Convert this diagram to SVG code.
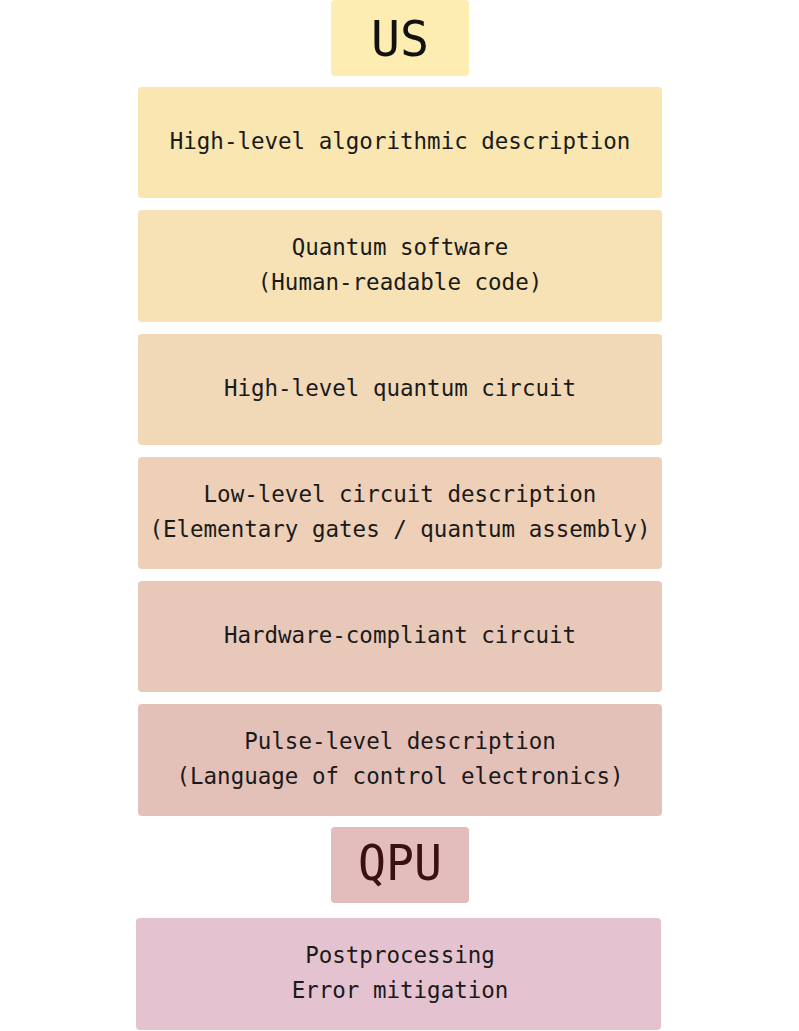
<svg xmlns="http://www.w3.org/2000/svg" width="799" height="1031" viewBox="0 0 799 1031">
<style>
.b{rx:4px}
.t{font-family:"DejaVu Sans Mono","Liberation Mono",monospace;font-size:22.5px;fill:#1a1a1a;text-anchor:middle}
.h{font-family:"DejaVu Sans Mono","Liberation Mono",monospace;font-size:50px;text-anchor:middle}
</style>
<rect width="799" height="1031" fill="#fff"/>
<g id="us"><rect class="b" x="331" y="0" width="138" height="76" fill="#fdedb0"/><text class="h" x="400" y="56" fill="#111" textLength="58" lengthAdjust="spacingAndGlyphs">US</text></g>
<g id="n1"><rect class="b" x="138" y="87" width="524" height="111" fill="#f9e6b0"/><text class="t" x="400" y="149">High-level algorithmic description</text></g>
<g id="n2"><rect class="b" x="138" y="210" width="524" height="112" fill="#f6e2b4"/><text class="t" x="400" y="255">Quantum software</text><text class="t" x="400" y="290">(Human-readable code)</text></g>
<g id="n3"><rect class="b" x="138" y="334" width="524" height="111" fill="#f1d9b8"/><text class="t" x="400" y="396">High-level quantum circuit</text></g>
<g id="n4"><rect class="b" x="138" y="457" width="524" height="112" fill="#edd0b7"/><text class="t" x="400" y="502">Low-level circuit description</text><text class="t" x="400" y="537">(Elementary gates / quantum assembly)</text></g>
<g id="n5"><rect class="b" x="138" y="581" width="524" height="111" fill="#e8c8b9"/><text class="t" x="400" y="643">Hardware-compliant circuit</text></g>
<g id="n6"><rect class="b" x="138" y="704" width="524" height="112" fill="#e4c1b8"/><text class="t" x="400" y="749">Pulse-level description</text><text class="t" x="400" y="784">(Language of control electronics)</text></g>
<g id="qpu"><rect class="b" x="331" y="827" width="138" height="76" fill="#e3bcbc"/><text class="h" x="400" y="880" fill="#3a1010" textLength="84" lengthAdjust="spacingAndGlyphs">QPU</text></g>
<g id="n7"><rect class="b" x="136" y="918" width="525" height="112" fill="#e4c2cf"/><text class="t" x="400" y="963">Postprocessing</text><text class="t" x="400" y="998">Error mitigation</text></g>
<g id="connectors"/>
</svg>
